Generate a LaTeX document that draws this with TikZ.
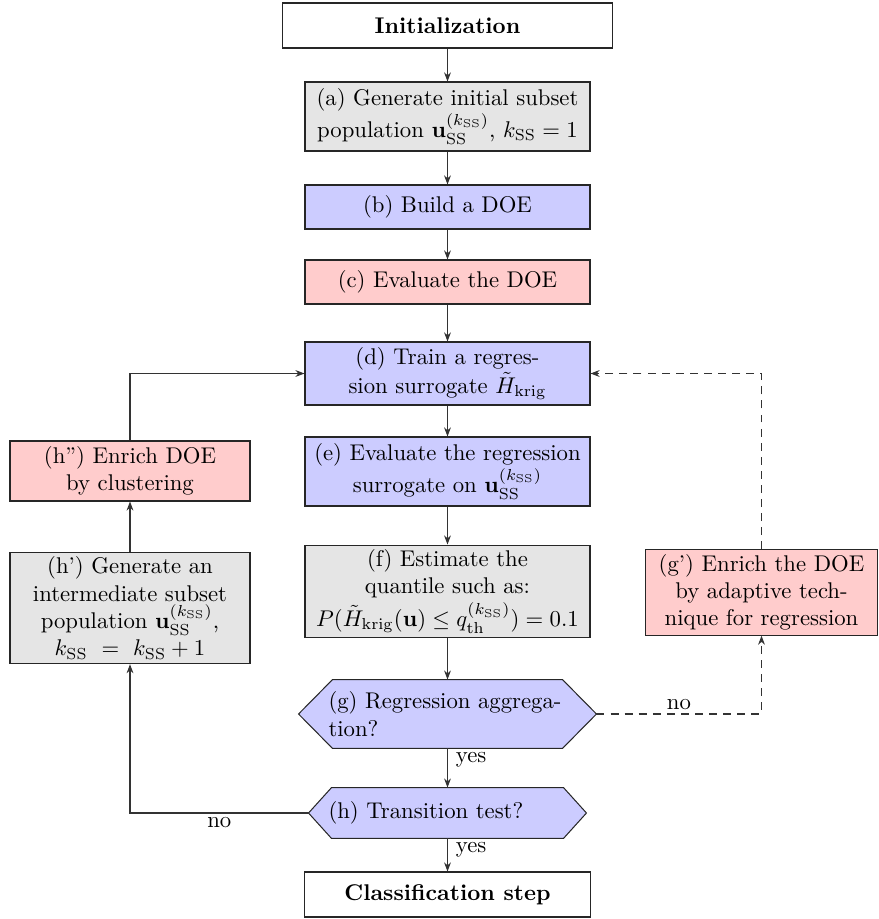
\documentclass[tikz,border=0pt]{standalone}
\usetikzlibrary{arrows.meta,calc,backgrounds}
\newcommand{\pxu}{0.44pt}
\newcommand{\SSs}{\mathrm{SS}}
\begin{document}
\begin{tikzpicture}[x=0.44pt,y=-0.44pt,
 box/.style={draw=black!85, line width=0.45pt, align=center, inner sep=2pt, font=\normalsize},
 grayb/.style={box, fill=black!10},
 blueb/.style={box, fill=blue!20},
 redb/.style={box, fill=red!20},
 whiteb/.style={box, fill=white},
 hexnode/.style={draw=none, align=left, text width=238*\pxu, inner sep=0pt},
 hexfill/.style={draw=black!85, line width=0.45pt, fill=blue!20},
 conn/.style={draw=black!80, line width=0.45pt, -{Stealth[length=4pt,width=3pt]}},
 dconn/.style={conn, dash pattern=on 3.5pt off 2.7pt},
 lbl/.style={font=\normalsize, inner sep=1.5pt}
]
\useasboundingbox (0,0) rectangle (878,919);

\node[whiteb, minimum width=330*\pxu, minimum height=45*\pxu] (init) at (447.5,25.5) {\bfseries Initialization};
\node[grayb, minimum width=285*\pxu, minimum height=69*\pxu] (a) at (447.5,116.5) {(a) Generate initial subset\\ population $\mathbf{u}_{\SSs}^{(k_{\SSs})}$, $k_{\SSs}=1$};
\node[blueb, minimum width=285*\pxu, minimum height=44*\pxu] (b) at (447.5,207) {(b) Build a DOE};
\node[redb, minimum width=285*\pxu, minimum height=44*\pxu] (c) at (447.5,282) {(c) Evaluate the DOE};
\node[blueb, minimum width=285*\pxu, minimum height=63*\pxu] (d) at (447.5,373.5) {(d) Train a regres-\\[1pt] sion surrogate $\tilde{H}_{\mathrm{krig}}$};
\node[blueb, minimum width=285*\pxu, minimum height=69*\pxu] (e) at (447.5,471.5) {(e) Evaluate the regression\\ surrogate on $\mathbf{u}_{\SSs}^{(k_{\SSs})}$};
\node[grayb, minimum width=285*\pxu, minimum height=91*\pxu] (f) at (447.5,591.5) {(f) Estimate the\\ quantile such as:\\[1pt] $P(\tilde{H}_{\mathrm{krig}}(\mathbf{u})\le q_{\mathrm{th}}^{(k_{\SSs})})=0.1$};
\node[hexnode, minimum width=297*\pxu, minimum height=68*\pxu] (g) at (447.5,714) {(g) Regression aggrega-\\tion?};
\node[hexnode, minimum width=277*\pxu, minimum height=50*\pxu] (h) at (447.5,813) {(h) Transition test?};
\node[whiteb, minimum width=286*\pxu, minimum height=45*\pxu] (cls) at (447.5,894.5) {\bfseries Classification step};
\node[redb, minimum width=240*\pxu, minimum height=60*\pxu] (hpp) at (130,471) {(h'') Enrich DOE\\ by clustering};
\node[grayb, minimum width=240*\pxu, minimum height=110*\pxu] (hp) at (130,608) {(h') Generate an\\ intermediate subset\\ population $\mathbf{u}_{\SSs}^{(k_{\SSs})}$,\\ $k_{\SSs}\ =\ k_{\SSs}+1$};
\node[redb, minimum width=232*\pxu, minimum height=85*\pxu] (gp) at (761.5,592.5) {(g') Enrich the DOE\\ by adaptive tech-\\ nique for regression};

\begin{scope}[on background layer]
\path[hexfill] (g.west) -- ($(g.north west)+(34,0)$) -- ($(g.north east)+(-34,0)$) -- (g.east) -- ($(g.south east)+(-34,0)$) -- ($(g.south west)+(34,0)$) -- cycle;
\path[hexfill] (h.west) -- ($(h.north west)+(23,0)$) -- ($(h.north east)+(-23,0)$) -- (h.east) -- ($(h.south east)+(-23,0)$) -- ($(h.south west)+(23,0)$) -- cycle;
\end{scope}

\draw[conn] (init.south) -- (a.north);
\draw[conn] (a.south) -- (b.north);
\draw[conn] (b.south) -- (c.north);
\draw[conn] (c.south) -- (d.north);
\draw[conn] (d.south) -- (e.north);
\draw[conn] (e.south) -- (f.north);
\draw[conn] (f.south) -- (g.north);
\draw[conn] (g.south) -- node[pos=0, anchor=north west, lbl, xshift=2pt] {yes} (h.north);
\draw[conn] (h.south) -- node[pos=0, anchor=north west, lbl, xshift=2pt] {yes} (cls.north);
\draw[conn] (h.west) -| node[pos=0.25, below, lbl] {no} (hp.south);
\draw[conn] (hp.north) -- (hpp.south);
\draw[conn] (hpp.north) |- (d.west);
\draw[dconn] (g.east) -| node[pos=0.25, above, lbl] {no} (gp.south);
\draw[dconn] (gp.north) |- (d.east);
\end{tikzpicture}
\end{document}
